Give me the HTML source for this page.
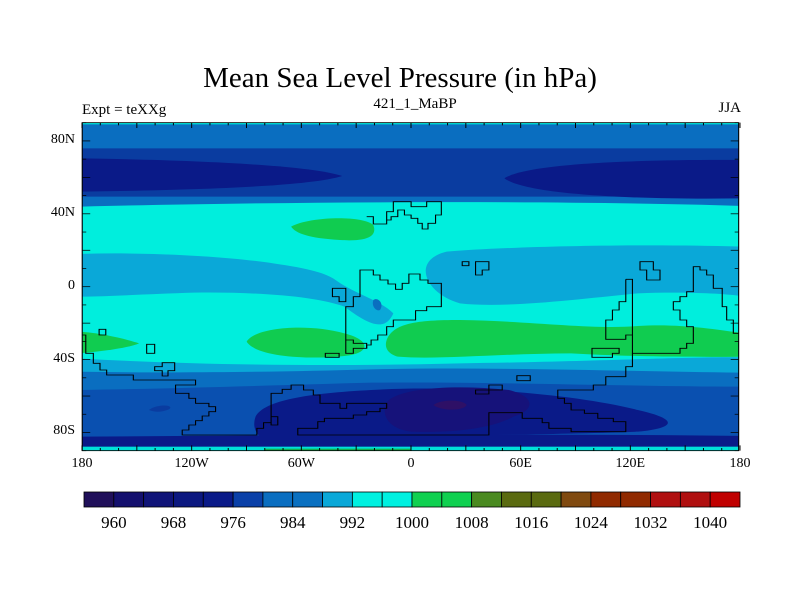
<!DOCTYPE html>
<html><head><meta charset="utf-8"><style>
body{margin:0;background:#fff;width:800px;height:600px;overflow:hidden;position:relative;font-family:"Liberation Serif",serif}
.t{position:absolute;color:#000;white-space:nowrap}
</style></head><body>
<div class="t" style="left:0;width:800px;text-align:center;top:62px;font-size:29px">Mean Sea Level Pressure (in hPa)</div>
<div class="t" style="left:82px;top:102px;font-size:15px">Expt = teXXg</div>
<div class="t" style="left:340px;width:150px;text-align:center;top:96px;font-size:15px">421_1_MaBP</div>
<div class="t" style="left:700px;width:41px;text-align:right;top:100px;font-size:15px">JJA</div>

<svg style="position:absolute;left:60px;top:100px" width="700" height="370" viewBox="0 0 1575 1110" preserveAspectRatio="none">
<defs><clipPath id="cp"><rect x="50" y="68" width="1477" height="984"/></clipPath></defs>
<g clip-path="url(#cp)">
<rect x="50" y="68" width="1477" height="984" fill="#0a6ec0"/>
<rect x="50" y="66" width="1477" height="7" fill="#00e8dc"/>
<path d="M40 145 H1540 V290 H40Z" fill="#0a3ca0"/>
<path d="M40 175 C300 180 560 195 635 228 C560 260 300 270 40 275Z" fill="#0a1a88"/>
<path d="M1540 180 C1300 178 1050 190 1000 235 C1050 285 1300 300 1540 295Z" fill="#0a1a88"/>
<path d="M40 320 C500 305 1100 300 1540 318 V820 H40Z" fill="#00eedd"/>
<path d="M520 380 C560 350 680 345 705 375 C715 410 690 425 630 420 C560 415 530 400 520 380Z" fill="#10cc50"/>
<path d="M40 462 C200 455 380 470 480 490 C560 505 600 520 620 540 C660 580 720 600 750 640 C730 700 690 670 640 620 C580 590 450 575 300 578 C200 582 100 590 40 590Z" fill="#0aa8d8"/>
<path d="M1540 440 C1300 430 1000 440 870 455 C790 480 820 580 900 610 C1000 625 1150 600 1300 580 C1400 575 1500 580 1540 590Z" fill="#0aa8d8"/>
<path d="M705 600 C715 590 730 610 720 630 C712 635 700 620 705 600Z" fill="#0a6ec0"/>
<path d="M420 725 C440 680 560 670 640 700 C700 720 700 760 640 768 C560 780 440 770 420 725Z" fill="#10cc50"/>
<path d="M735 720 C750 670 800 660 900 660 C1050 662 1200 690 1300 678 C1400 670 1480 690 1540 700 V770 C1400 772 1250 768 1150 760 C1000 760 850 780 760 770 C735 760 730 740 735 720Z" fill="#10cc50"/>
<path d="M40 695 C90 698 150 718 178 730 C150 745 90 755 40 760Z" fill="#10cc50"/>
<path d="M40 775 C300 795 600 800 900 790 C1200 785 1400 770 1540 772 V1060 H40Z" fill="#0aa8d8"/>
<path d="M40 815 C300 820 500 815 700 808 C1000 800 1300 815 1540 818 V1060 H40Z" fill="#0a6ec0"/>
<path d="M40 870 C300 865 500 855 700 848 C1000 845 1300 860 1540 860 V1060 H40Z" fill="#0a50b0"/>
<path d="M200 930 C220 910 260 915 245 928 C230 936 215 938 200 930Z" fill="#0a3ca0"/>
<path d="M440 950 C460 900 560 880 700 870 C900 855 1150 880 1300 930 C1400 960 1380 985 1300 995 C1100 1005 700 1010 450 1010 C435 990 435 970 440 950Z" fill="#0a1a88"/>
<path d="M40 1010 C600 1005 1100 1000 1540 1008 V1060 H40Z" fill="#0a1a88"/>
<path d="M740 900 C780 860 900 855 1010 870 C1070 890 1070 930 1020 950 C980 980 900 1000 790 995 C730 985 720 930 740 900Z" fill="#16127a"/>
<path d="M840 915 C860 895 910 900 915 915 C910 932 860 935 840 915Z" fill="#2e1066"/>
<rect x="50" y="1040" width="1477" height="14" fill="#00e0d8"/>
<rect x="460" y="1046" width="330" height="8" fill="#10b050"/>
</g>
<g fill="none" stroke="#000" stroke-width="2.5">
<path d="M690 350H705V372H735V335H750V305H790V320H825V305H858V345H845V370H828V387H815V370H805V355H790V345H775V330H760V350H745V360H735V372H705V350H690Z"/>
<path d="M675 510H705V525H720V540H738V552H755V568H770V550H785V522H810V540H828V550H858V620H825V632H800V660H750V680H735V705H715V720H700V735H690V745H660V760H643V620H660V590H675Z"/>
<path d="M613 565H643V605H628V590H613Z"/>
<path d="M905 485H920V497H905Z"/>
<path d="M935 485H965V510H950V525H935Z"/>
<path d="M1305 485H1335V510H1350V540H1320V510H1305Z"/>
<path d="M1273 538H1288V760H1395V745H1410V730H1425V680H1410V660H1395V630H1380V605H1395V590H1410V575H1425V500H1440V510H1455V525H1470V565H1490V620H1500V660H1515V700H1527"/>
<path d="M1273 538V605H1258V630H1243V660H1228V718H1273V705H1288"/>
<path d="M1197 745H1258V760H1243V772H1197Z"/>
<path d="M50 705H58V760H75V790H90V810H105V825H165V840H305V855H260V880H290V895H305V910H335V920H350V935H335V948H320V962H305V975H290V990H275V1005H443V985H458V968H475V950H490V975H475V880H500V868H520V855H548V870H570V885H585V910H630V925H645V910H735V925H720V935H690V945H660V955H595V965H580V985H535V1005H965V938H1040V955H1085V968H1100V985H1150V995H1273V965H1245V955H1210V940H1180V930H1150V910H1135V895H1120V870H1200V855H1228V830H1273V800H1288V760"/>
<path d="M88 688H103V705H88Z"/>
<path d="M195 733H213V760H195Z"/>
<path d="M213 800H230V788H258V812H243V828H230V812H213Z"/>
<path d="M597 760H628V772H597Z"/>
<path d="M643 720H660V730H690V745"/>
<path d="M1028 827H1058V842H1028Z"/>
<path d="M935 870H965V855H995V870H965V882H935Z"/>
</g>
<rect x="50" y="68" width="1477" height="984" fill="none" stroke="#000" stroke-width="2.5"/>
<g id="ticks" stroke="#000" stroke-width="2.2"></g>
</svg>

<div id="labels"></div>

<svg style="position:absolute;left:0;top:0" width="800" height="600">
<g id="cbar"></g>
</svg>

<script>
const latTicks=[80,40,0,-40,-80];
const latLabels=["80N","40N","0","40S","80S"];
const lonTicks=[-180,-120,-60,0,60,120,180];
const lonLabels=["180","120W","60W","0","60E","120E","180"];
const cbarColors=["#20105a","#14106e","#101478","#0c1880","#0a1a88","#0a40a8","#0a6ec0","#0a70c0","#0aa8d8","#00f0e0","#00f0e0","#10d050","#10d050","#4a8a20","#5a6a10","#5a6a10","#804a10","#902a00","#902a00","#b01010","#b01010","#c00000"];
const cbarLabels=["960","968","976","984","992","1000","1008","1016","1024","1032","1040"];

const X0=82,X1=740,Y0=122.7,Y1=450.7;
const xLon=l=>X0+(l+180)/360*(X1-X0);
const yLat=l=>(Y0+Y1)/2-l/180*(Y1-Y0);
const NS="http://www.w3.org/2000/svg";

const tg=document.getElementById('ticks');
const zx=x=>(x-60)*2.25, zy=y=>(y-100)*3;
for(let l=-180;l<=180;l+=10){
  const len=(l%30===0)?20:10;
  for(const [ya,dir] of [[68,1],[1052,-1]]){
    const ln=document.createElementNS(NS,'line');
    
    
    const x=zx(xLon(l));
    ln.setAttribute('x1',x);ln.setAttribute('x2',x);ln.setAttribute('y1',ya);ln.setAttribute('y2',ya+dir*len*0.8);
    tg.appendChild(ln);
  }
}
for(let l=-90;l<=90;l+=10){
  const len=(l%20===0)?30:15;
  for(const [xa,dir] of [[50,1],[1527,-1]]){
    const ln=document.createElementNS(NS,'line');
    
    
    const y=zy(yLat(l));
    ln.setAttribute('x1',xa);ln.setAttribute('x2',xa+dir*len*0.6);ln.setAttribute('y1',y);ln.setAttribute('y2',y);
    tg.appendChild(ln);
  }
}

const lab=document.getElementById('labels');
latTicks.forEach((v,i)=>{
  const d=document.createElement('div');
  
  
  d.className='t';
  d.style.cssText=`left:20px;width:55px;text-align:right;top:${yLat(v)-9}px;font-size:14px`;
  d.textContent=latLabels[i];lab.appendChild(d);
});
lonTicks.forEach((v,i)=>{
  const d=document.createElement('div');
  
  
  d.className='t';
  d.style.cssText=`left:${xLon(v)-30}px;width:60px;text-align:center;top:456px;font-size:14px`;
  d.textContent=lonLabels[i];lab.appendChild(d);
});

const cb=document.getElementById('cbar');
const CB0=84,CB1=740,CBY=492,CBH=15;
const bw=(CB1-CB0)/cbarColors.length;
cbarColors.forEach((c,i)=>{
  const r=document.createElementNS(NS,'rect');
  
  
  r.setAttribute('x',CB0+i*bw);r.setAttribute('y',CBY);r.setAttribute('width',bw);r.setAttribute('height',CBH);
  r.setAttribute('fill',c);r.setAttribute('stroke','#000');r.setAttribute('stroke-width','0.8');
  cb.appendChild(r);
});
cbarLabels.forEach((t,i)=>{
  const tx=document.createElementNS(NS,'text');
  
  
  tx.setAttribute('x',CB0+(1+2*i)*bw);tx.setAttribute('y',528);
  tx.setAttribute('text-anchor','middle');tx.setAttribute('font-size','17');
  tx.setAttribute('font-family','Liberation Serif, serif');
  tx.textContent=t;cb.appendChild(tx);
});
</script>
</body></html>
